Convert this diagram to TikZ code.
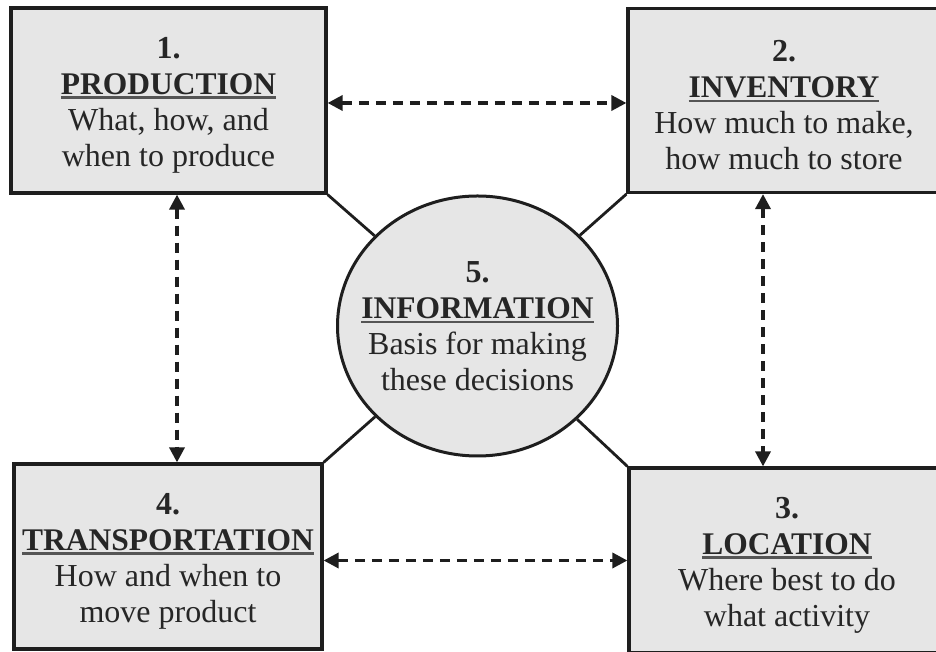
\documentclass[tikz,border=0pt]{standalone}
\usepackage{fontspec}
\setmainfont{Liberation Serif}
\usetikzlibrary{shapes.geometric,arrows.meta,calc}
\definecolor{boxfill}{HTML}{E6E6E6}
\definecolor{edge}{HTML}{1E1E1E}
\definecolor{ulgray}{HTML}{555555}
\newcommand{\hdr}[1]{\setbox0\hbox{\fontsize{31.5}{36}\selectfont\bfseries #1}\leavevmode\rlap{\raisebox{-4.5pt}{\textcolor{ulgray}{\rule{\wd0}{2.2pt}}}}\box0}
\newcommand{\numline}[1]{\rule{0pt}{30pt}{\bfseries #1}}
\tikzset{
  decbox/.style={draw=edge, line width=3.2pt, fill=boxfill, rectangle, inner sep=0pt,
    align=center, text=black!85, font=\fontsize{32}{36}\selectfont},
  infobox/.style={draw=edge, line width=3pt, fill=boxfill, ellipse, inner xsep=-25pt, inner ysep=0pt,
    minimum width=280pt, minimum height=260pt,
    align=center, text=black!85, font=\fontsize{32}{36}\selectfont},
  dasharrow/.style={draw=edge, line width=3.4pt, dash pattern=on 10pt off 7pt,
    {Triangle[length=15pt,width=15pt]}-{Triangle[length=15pt,width=15pt]}},
  spoke/.style={draw=edge, line width=2.8pt}
}
\begin{document}
\begin{tikzpicture}[x=1pt,y=1pt]
\useasboundingbox (0,0) rectangle (936,652);
\clip (0,0) rectangle (936,652);
\node[decbox, minimum width=315pt, minimum height=185pt] (b1) at (168.5,551.5)
  {\numline{1.}\\ \hdr{PRODUCTION}\\ What, how, and\\ when to produce};
\node[decbox, minimum width=312pt, minimum height=184pt] (b2) at (784,551.5)
  {\numline{2.}\\ \hdr{INVENTORY}\\ How much to make,\\ how much to store};
\node[decbox, minimum width=308pt, minimum height=185pt] (b4) at (168,95.5)
  {\numline{4.}\\ \hdr{TRANSPORTATION}\\ How and when to\\ move product};
\node[decbox, minimum width=316pt, minimum height=185pt] (b3) at (787,91.5)
  {\numline{3.}\\ \hdr{LOCATION}\\ Where best to do\\ what activity};
\node[infobox] (info) at (477.5,326)
  {{\bfseries 5.}\\ \hdr{INFORMATION}\\ Basis for making\\ these decisions};
\draw[spoke] (b1.south east) -- (info);
\draw[spoke] (b2.south west) -- (info);
\draw[spoke] (b4.north east) -- (info);
\draw[spoke] (b3.north west) -- (info);
% dashed double arrows
\draw[dasharrow] ([yshift=-2.5pt]b1.east) -- ([yshift=-2.5pt]b2.west);
\draw[dasharrow] (b4.east |- b3.west) -- (b3.west);
\draw[dasharrow] ([xshift=8.5pt]b1.south) -- ([xshift=8.5pt]b1.south |- b4.north);
\draw[dasharrow] ([xshift=-21pt]b2.south) -- ([xshift=-21pt]b2.south |- b3.north);
\end{tikzpicture}
\end{document}
